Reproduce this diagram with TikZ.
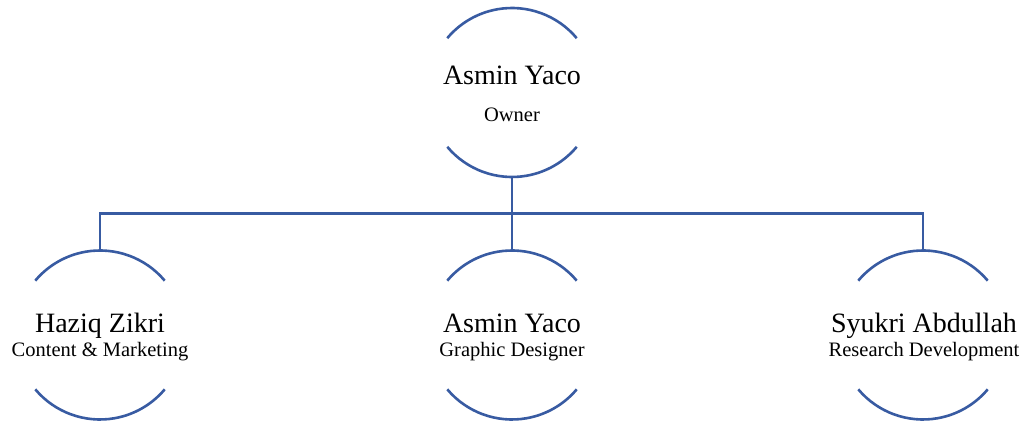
\documentclass[tikz,border=0pt]{standalone}
\usepackage{fontspec}
\setmainfont{Liberation Serif}
\definecolor{linkblue}{RGB}{56,91,162}
\begin{document}
\begin{tikzpicture}[x=1pt,y=1pt,
  ring/.style={circle,minimum size=169pt,inner sep=0pt,outer sep=0pt},
  arcline/.style={draw=linkblue,line width=2.6pt},
  conn/.style={draw=linkblue,line width=2.6pt},
  nametext/.style={anchor=base,inner sep=0pt,font=\fontsize{28}{32}\selectfont},
  roletext/.style={anchor=base,inner sep=0pt,font=\fontsize{20.5}{24}\selectfont}]
\useasboundingbox (0,0) rectangle (1026,423);
% ring nodes
\node[ring] (top) at (512,330.5) {};
\node[ring] (c1) at (100,88) {};
\node[ring] (c2) at (512,88) {};
\node[ring] (c3) at (923,88) {};
% arcs
\foreach \n in {top,c1,c2,c3}{
  \draw[arcline] (\n.40) arc[start angle=40,end angle=140,radius=84.5];
  \draw[arcline] (\n.220) arc[start angle=220,end angle=320,radius=84.5];
}
% texts
\node[nametext] (tn) at (512,338) {Asmin Yaco};
\node[roletext] (tr) at (512,301) {Owner};
\node[nametext] (n1) at (100,90.5) {Haziq Zikri};
\node[roletext] (r1) at (100,66) {Content \& Marketing};
\node[nametext] (n2) at (512,90.5) {Asmin Yaco};
\node[roletext] (r2) at (512,66) {Graphic Designer};
\node[nametext] (n3) at (924,90.5) {Syukri Abdullah};
\node[roletext] (r3) at (924,66) {Research Development};
% connectors
\coordinate (bus) at (512,209.5);
\draw[conn] (top.south) -- (bus);
\draw[conn] (c1.north) |- (bus) -| (c3.north);
\draw[conn] (bus) -- (c2.north);
\end{tikzpicture}
\end{document}
